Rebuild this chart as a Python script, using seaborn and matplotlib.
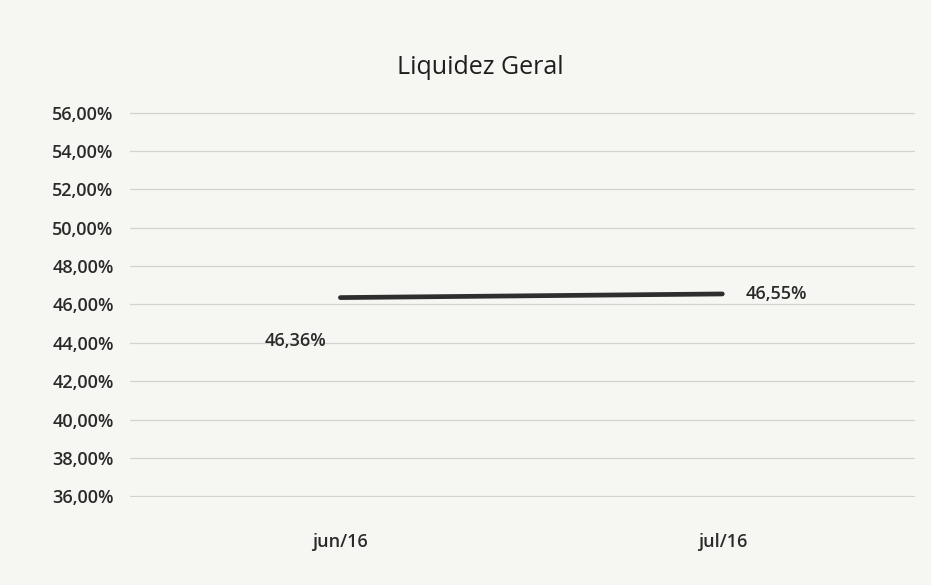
import matplotlib
matplotlib.use("Agg")
import matplotlib.pyplot as plt
import matplotlib.ticker as mticker
import seaborn as sns
import pandas as pd

# --- DATA ---
months = ["jun/16", "jul/16"]
liquidez = [46.36, 46.55]
y_ticks = [36, 38, 40, 42, 44, 46, 48, 50, 52, 54, 56]

df = pd.DataFrame({"mes": months, "valor": liquidez})

sns.set_theme(style="white")
plt.rcParams['font.family'] = ['Open Sans', 'DejaVu Sans']

fig = plt.figure(figsize=(9.31, 5.85), dpi=100, facecolor="#f6f6f3")
ax = fig.add_axes([0.14, 0.150, 0.843, 0.659])
ax.set_facecolor("#f6f6f3")

sns.lineplot(data=df, x="mes", y="valor", ax=ax, color="#2e2e2e", linewidth=3.4, sort=False)

ax.set_xlim(-0.55, 1.505)
ax.set_ylim(35.95, 56.05)
ax.set_yticks(y_ticks)
ax.yaxis.set_major_formatter(mticker.FuncFormatter(lambda v, p: f"{v:.2f}%".replace(".", ",")))
ax.grid(axis="y", color="#d2d2d2", linewidth=0.9)
for s in ax.spines.values():
    s.set_visible(False)
ax.tick_params(axis="y", length=0, pad=12, labelsize=13, labelcolor="#2a2a2a")
ax.tick_params(axis="x", length=0, pad=26, labelsize=13, labelcolor="#2a2a2a")
for lab in ax.get_xticklabels() + ax.get_yticklabels():
    lab.set_fontweight("semibold")
ax.set_xlabel("")
ax.set_ylabel("")

# data labels
def fmt(v):
    return f"{v:.2f}%".replace(".", ",")

ax.annotate(fmt(liquidez[0]), (0, liquidez[0]), xytext=(-32, -31), textcoords="offset points",
            ha="center", va="center", fontsize=13, color="#2a2a2a", fontweight="semibold")
ax.annotate(fmt(liquidez[1]), (1, liquidez[1]), xytext=(17, 0), textcoords="offset points",
            ha="left", va="center", fontsize=13, color="#2a2a2a", fontweight="semibold")

fig.text(0.516, 0.885, "Liquidez Geral", ha="center", va="center", fontsize=18, color="#1e1e1e")

fig.savefig("out.png", dpi=100, facecolor=fig.get_facecolor())
